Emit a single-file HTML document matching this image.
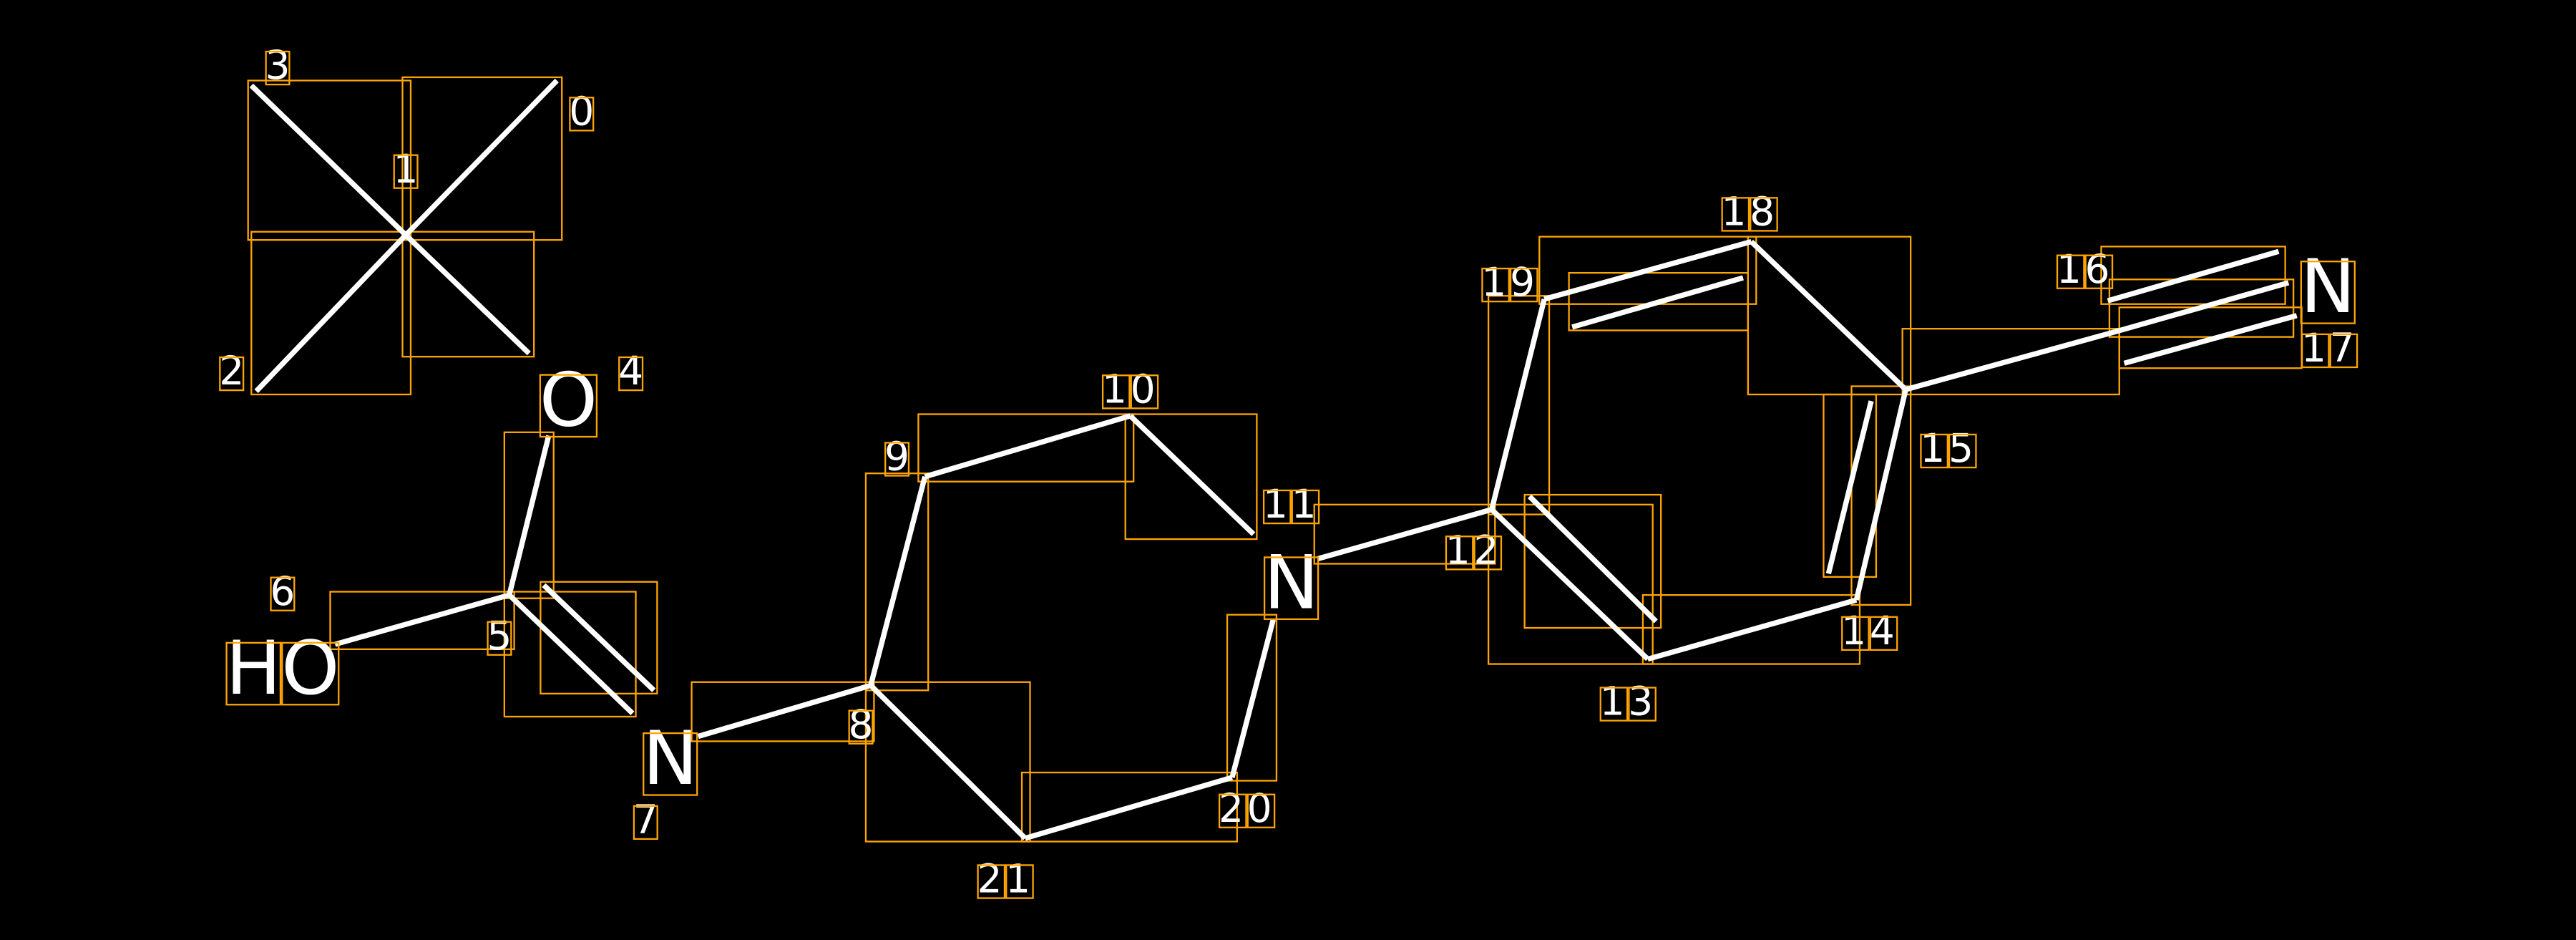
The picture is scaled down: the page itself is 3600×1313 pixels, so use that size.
<!DOCTYPE html>
<html><head><meta charset="utf-8"><style>
html,body{margin:0;padding:0;background:#000;}
svg{display:block}
text{font-family:"DejaVu Sans","Liberation Sans",sans-serif;fill:#fff;}
</style></head><body>
<svg id="s" width="3600" height="1313" viewBox="0 0 1568 571.9" preserveAspectRatio="none" xmlns="http://www.w3.org/2000/svg">
<rect width="1568" height="572" fill="#000"/>
<g fill="none" stroke="#FFA500" stroke-width="1">
<rect x="245" y="47" width="97" height="99"/>
<rect x="151" y="49" width="99" height="97"/>
<rect x="153" y="141" width="97" height="99"/>
<rect x="245" y="141" width="80" height="76"/>
<rect x="307" y="263" width="30" height="101"/>
<rect x="201" y="360" width="112" height="35"/>
<rect x="307" y="360" width="80" height="76"/>
<rect x="329" y="354" width="71" height="68"/>
<rect x="421" y="415" width="111" height="36"/>
<rect x="527" y="288" width="38" height="132"/>
<rect x="559" y="252" width="131" height="41"/>
<rect x="685" y="252" width="80" height="76"/>
<rect x="800" y="307" width="110" height="36"/>
<rect x="527" y="415" width="100" height="97"/>
<rect x="622" y="470" width="131" height="42"/>
<rect x="747" y="374" width="30" height="101"/>
<rect x="906" y="180" width="37" height="133"/>
<rect x="937" y="144" width="132" height="41"/>
<rect x="955" y="166" width="109" height="35"/>
<rect x="1064" y="144" width="99" height="96"/>
<rect x="1127" y="235" width="36" height="133"/>
<rect x="1110" y="240" width="32" height="111"/>
<rect x="1000" y="362" width="132" height="42"/>
<rect x="906" y="307" width="100" height="97"/>
<rect x="928" y="301" width="83" height="81"/>
<rect x="1158" y="200" width="132" height="40"/>
<rect x="1279" y="150" width="112" height="35"/>
<rect x="1284" y="170" width="112" height="35"/>
<rect x="1290" y="187" width="111" height="37"/>
</g>
<g stroke="#fff" stroke-width="3.2" stroke-linecap="butt">
<line x1="247" y1="143" x2="339" y2="49"/>
<line x1="247" y1="143" x2="153" y2="52"/>
<line x1="247" y1="143" x2="156" y2="238"/>
<line x1="247" y1="143" x2="322" y2="215"/>
<line x1="310" y1="362" x2="334" y2="265"/>
<line x1="310" y1="362" x2="204" y2="392"/>
<line x1="310" y1="362" x2="385" y2="434"/>
<line x1="331" y1="356" x2="398" y2="420"/>
<line x1="530" y1="417" x2="425" y2="448"/>
<line x1="530" y1="417" x2="563" y2="290"/>
<line x1="563" y1="290" x2="688" y2="253"/>
<line x1="688" y1="253" x2="763" y2="325"/>
<line x1="802" y1="340" x2="908" y2="310"/>
<line x1="530" y1="417" x2="624" y2="510"/>
<line x1="624" y1="510" x2="750" y2="473"/>
<line x1="750" y1="473" x2="775" y2="377"/>
<line x1="908" y1="310" x2="940" y2="182"/>
<line x1="940" y1="182" x2="1066" y2="147"/>
<line x1="957" y1="199" x2="1061" y2="169"/>
<line x1="1066" y1="147" x2="1160" y2="237"/>
<line x1="1160" y1="237" x2="1130" y2="365"/>
<line x1="1113" y1="349" x2="1139" y2="244"/>
<line x1="1130" y1="365" x2="1003" y2="401"/>
<line x1="1003" y1="401" x2="908" y2="310"/>
<line x1="931" y1="302" x2="1008" y2="378"/>
<line x1="1160" y1="237" x2="1287" y2="202"/>
<line x1="1283" y1="183" x2="1387" y2="153"/>
<line x1="1287" y1="202" x2="1393" y2="172"/>
<line x1="1293" y1="221" x2="1398" y2="192"/>
</g>
<g id="labels" font-size="24" text-anchor="middle">
<text x="354" y="76">0</text>
<text x="247" y="111">1</text>
<text x="169" y="48">3</text>
<text x="141" y="234">2</text>
<text x="384" y="234">4</text>
<text x="172" y="368">6</text>
<text x="304" y="395">5</text>
<text x="393" y="507">7</text>
<text x="524" y="449">8</text>
<text x="546" y="286">9</text>
<text x="688" y="245" letter-spacing="2">10</text>
<text x="786" y="315" letter-spacing="2">11</text>
<text x="897" y="343" letter-spacing="2">12</text>
<text x="991" y="435" letter-spacing="2">13</text>
<text x="1138" y="392" letter-spacing="2">14</text>
<text x="1186" y="281" letter-spacing="2">15</text>
<text x="1269" y="172" letter-spacing="2">16</text>
<text x="1418" y="220" letter-spacing="2">17</text>
<text x="1065" y="137" letter-spacing="2">18</text>
<text x="919" y="180" letter-spacing="2">19</text>
<text x="759" y="500" letter-spacing="2">20</text>
<text x="612" y="543" letter-spacing="2">21</text>
<text x="346" y="259" font-size="45">O</text>
<text x="172" y="422" font-size="45">HO</text>
<text x="408" y="477" font-size="45">N</text>
<text x="786" y="370" font-size="45">N</text>
<text x="1417" y="190" font-size="45">N</text>
</g>
<g id="boxes" fill="none" stroke="#FFA500" stroke-width="1"></g>
</svg>
<script>
(function(){
var ns="http://www.w3.org/2000/svg";
var g=document.getElementById("boxes");
var ts=document.querySelectorAll("#labels text");
for(var i=0;i<ts.length;i++){
 var t=ts[i];var n=t.getNumberOfChars();
 for(var k=0;k<n;k++){
  try{var e=t.getExtentOfChar(k);
  var h=e.height*0.72;
  var r=document.createElementNS(ns,"rect");
  r.setAttribute("x",e.x+0.5);r.setAttribute("y",e.y+e.height*0.2);
  r.setAttribute("width",Math.max(2,e.width-1));r.setAttribute("height",h);
  g.appendChild(r);}catch(x){}
 }
}
})();
</script>
</body></html>
